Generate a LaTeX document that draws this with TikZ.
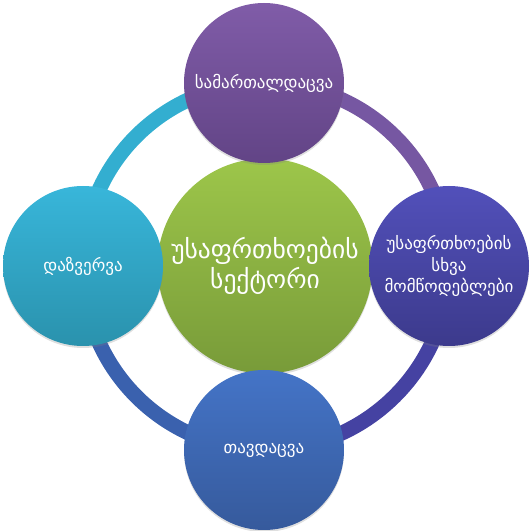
\documentclass[tikz,border=0pt]{standalone}
\usepackage{fontspec}
\setmainfont{DejaVu Sans}
\usepackage{tikz}
\usetikzlibrary{shadows,backgrounds}

\definecolor{ringcyan}{HTML}{33AED0}
\definecolor{ringpurple}{HTML}{7657A2}
\definecolor{ringindigo}{HTML}{4542A2}
\definecolor{ringblue}{HTML}{3A61AE}

\tikzset{
  part/.style={circle, minimum size=160pt, inner sep=0pt, text=white,
    align=center, font=\fontsize{17}{21.5}\selectfont,
    drop shadow={opacity=0.25, shadow xshift=0pt, shadow yshift=-2pt}},
  core/.style={part, minimum size=215pt, font=\fontsize{25.5}{30}\selectfont},
  ring/.style={line width=15pt}
}

\begin{document}
\begin{tikzpicture}[x=1pt, y=1pt]
	\useasboundingbox (0,0) rectangle (531,531);
	\node[core, top color={rgb,255:red,157;green,198;blue,74}, bottom color={rgb,255:red,120;green,155;blue,57}]
	      (sector) at (265,265) {უსაფრთხოების\\სექტორი};
	\node[part, top color={rgb,255:red,128;green,92;blue,168}, bottom color={rgb,255:red,98;green,68;blue,134}]
	      (police) at (264,448) {სამართალდაცვა};
	\node[part, top color={rgb,255:red,56;green,182;blue,218}, bottom color={rgb,255:red,42;green,146;blue,173}]
	      (intel) at (83,265) {დაზვერვა};
	\node[part, top color={rgb,255:red,82;green,80;blue,186}, bottom color={rgb,255:red,60;green,58;blue,140}]
	      (other) at (449,265) {უსაფრთხოების\\სხვა\\მომწოდებლები};
	\node[part, top color={rgb,255:red,68;green,116;blue,199}, bottom color={rgb,255:red,54;green,90;blue,156}]
	      (defence) at (264,81) {თავდაცვა};
	\begin{scope}[on background layer]
		\draw[ring, ringcyan] (intel.center) to[bend left=45] (police.center);
		\draw[ring, ringpurple] (police.center) to[bend left=45] (other.center);
		\draw[ring, ringindigo] (other.center) to[bend left=45] (defence.center);
		\draw[ring, ringblue] (defence.center) to[bend left=45] (intel.center);
	\end{scope}
\end{tikzpicture}
\end{document}
